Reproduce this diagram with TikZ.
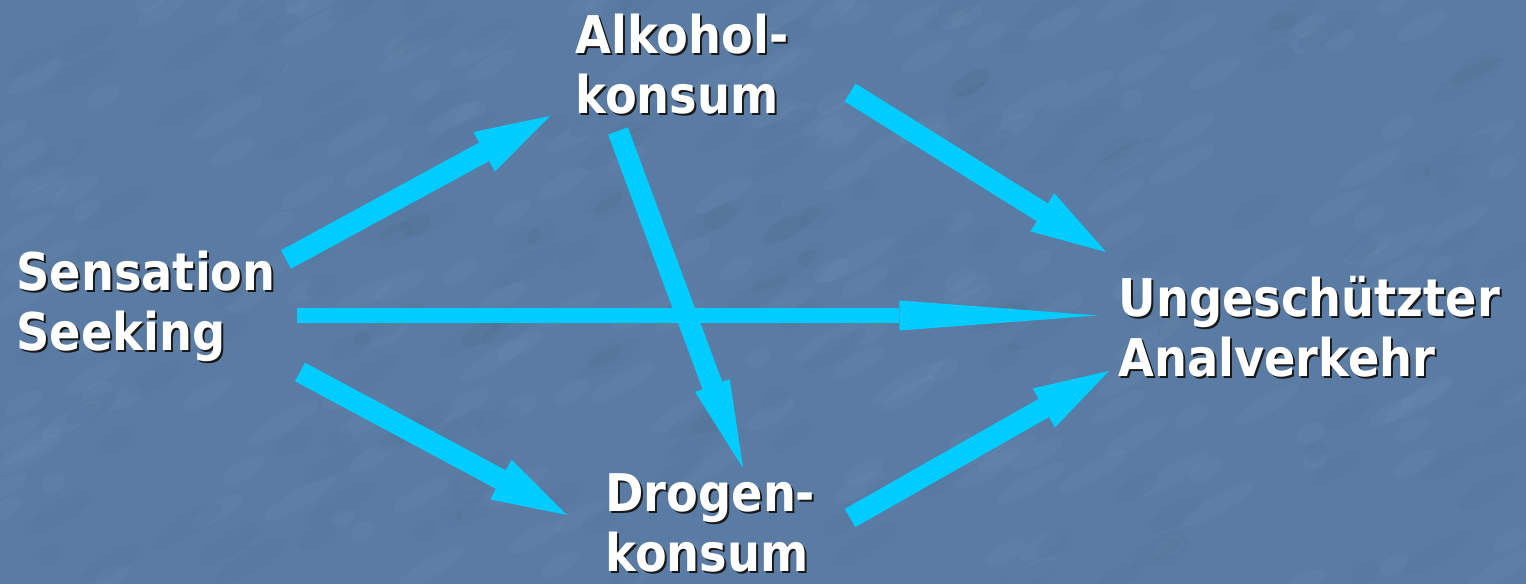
\documentclass[tikz,border=0pt]{standalone}
\usepackage{fontspec}
\newfontfamily\lblfont[FakeStretch=0.89]{DejaVu Sans}
\usetikzlibrary{arrows.meta}

\definecolor{slideblue}{RGB}{90,124,164}
\definecolor{arrowcyan}{RGB}{0,204,255}

\tikzset{every picture/.style={line width=0.75pt}}
\tikzset{
  lbl/.style={anchor=north west, inner sep=0pt, align=left, text=white,
    font=\lblfont\bfseries\fontsize{39pt}{45pt}\selectfont},
  lblshadow/.style={lbl, text=black!90},
  conn/.style={draw=arrowcyan, line width=15.75pt,
    -{Triangle[length=56.25pt,width=33.75pt,line width=0pt]}},
}

\begin{document}
\begin{tikzpicture}[x=0.75pt,y=0.75pt,yscale=-1,xscale=1]
\useasboundingbox (0,0) rectangle (1526,584);

%Background
\fill[slideblue] (0,0) rectangle (1526,584);
\pgfmathsetseed{11}
\foreach \i in {1,...,220}{
  \pgfmathsetmacro\bx{rnd*1526}
  \pgfmathsetmacro\by{rnd*584}
  \pgfmathsetmacro\bl{12+rnd*30}
  \fill[white,opacity=0.025,rotate around={-30:(\bx,\by)}] (\bx,\by) ellipse ({\bl} and 9);
}
\foreach \i in {1,...,160}{
  \pgfmathsetmacro\bx{rnd*1526}
  \pgfmathsetmacro\by{rnd*584}
  \pgfmathsetmacro\bl{12+rnd*30}
  \fill[black,opacity=0.02,rotate around={-30:(\bx,\by)}] (\bx,\by) ellipse ({\bl} and 10);
}

% Text Node
\node[lblshadow] (ssS) at (18,252.5) {Sensation\\Seeking};
\node[lbl] (ss) at (16,250.5) {Sensation\\Seeking};
% Text Node
\node[lblshadow] (alkS) at (577,15.5) {Alkohol-\\konsum};
\node[lbl] (alk) at (575,13.5) {Alkohol-\\konsum};
% Text Node
\node[lblshadow] (droS) at (607,475.5) {Drogen-\\konsum};
\node[lbl] (dro) at (605,473.5) {Drogen-\\konsum};
% Text Node
\node[lblshadow] (ungS) at (1120,277.5) {Ungesch\"utzter\\Analverkehr};
\node[lbl] (ung) at (1118,275.5) {Ungesch\"utzter\\Analverkehr};

%Straight Lines
\draw[conn] ([shift={(270,9)}]ss.north west) -- ([shift={(-25,102.5)}]alk.north west);
%Straight Lines
\draw[conn] ([shift={(275,79)}]alk.north west) -- ([shift={(-12,-23.5)}]ung.north west);
%Straight Lines
\draw[conn, line width=11.25pt, -{Triangle[length=149pt,width=22.5pt,line width=0pt]}]
  ([shift={(281,65)}]ss.north west) -- ([shift={(-20,40)}]ung.north west);
%Straight Lines
\draw[conn, -{Triangle[length=66pt,width=27.75pt,line width=0pt]}]
  ([shift={(43,117.5)}]alk.north west) -- ([shift={(138,-5.5)}]dro.north west);
%Straight Lines
\draw[conn] ([shift={(284,121.5)}]ss.north west) -- ([shift={(-38,41.5)}]dro.north west);
%Straight Lines
\draw[conn] ([shift={(245,44.5)}]dro.north west) -- ([shift={(-9,95.5)}]ung.north west);

\end{tikzpicture}
\end{document}
